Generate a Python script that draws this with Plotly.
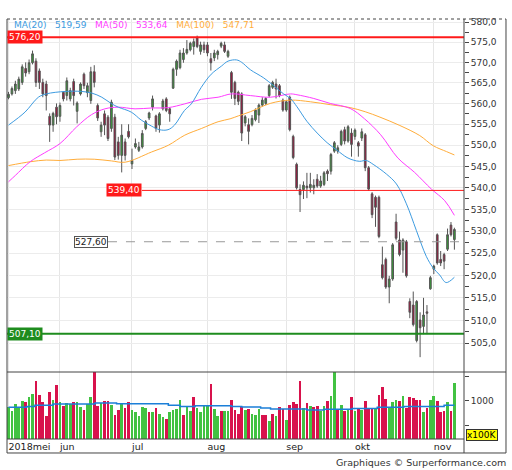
import math
import pandas as pd
import plotly.graph_objects as go

# AEX daily candles, 11 May - 9 Nov 2018
dates = pd.bdate_range("2018-05-11", "2018-11-09")
xi = list(range(len(dates)))

opens = [561.4, 562.3, 563.1, 563.5, 565.1, 568.5, 567.7, 569.9, 570.3, 567.9,
         565.1, 564.7, 556.9, 554.8, 559.1, 556.9, 562.7, 561.9, 561.1, 565.3,
         558.1, 562.3, 567.1, 562.6, 560.7, 567.7, 559.5, 553.2, 557.5, 556.7,
         554.0, 556.7, 550.8, 547.6, 550.8, 553.3, 545.6, 549.6, 548.8, 549.6,
         554.0, 556.5, 559.1, 557.0, 554.8, 558.7, 561.1, 558.7, 563.7, 568.3,
         568.7, 570.7, 572.3, 573.1, 573.9, 576.0, 572.7, 574.3, 574.3, 570.9,
         571.1, 571.9, 574.0, 574.3, 571.5, 567.5, 565.1, 562.7, 562.3, 555.3,
         554.9, 554.9, 556.1, 557.2, 559.6, 560.0, 561.9, 563.9, 564.7, 564.3,
         560.8, 558.4, 561.5, 552.1, 545.5, 539.6, 539.6, 540.4, 540.0, 540.0,
         542.0, 540.4, 540.8, 543.9, 543.9, 548.6, 548.6, 550.2, 553.7, 551.0,
         552.9, 552.1, 550.6, 551.7, 552.5, 544.7, 538.6, 537.8, 537.8, 522.4,
         523.6, 517.4, 519.2, 532.1, 528.0, 525.7, 527.6, 514.2, 513.4, 505.6,
         510.1, 508.7, 511.9, 517.0, 521.4, 529.2, 523.6, 524.7, 525.9, 531.4,
         528.1]
highs = [562.8, 564.1, 565.5, 566.5, 569.5, 570.0, 570.7, 572.9, 571.0, 568.5,
         566.0, 565.5, 557.6, 558.0, 560.0, 560.2, 563.0, 566.3, 563.8, 566.0,
         560.5, 565.1, 567.5, 565.0, 568.9, 569.3, 560.0, 555.6, 558.3, 557.2,
         560.9, 557.5, 552.0, 555.0, 551.6, 555.0, 549.2, 551.6, 550.8, 553.6,
         556.0, 558.0, 561.9, 557.3, 557.9, 561.1, 561.5, 559.1, 568.7, 570.7,
         573.1, 573.5, 575.5, 575.1, 575.9, 576.6, 575.1, 575.1, 575.0, 572.3,
         573.1, 573.1, 575.1, 575.1, 573.1, 567.9, 565.5, 563.1, 562.7, 557.2,
         556.4, 557.2, 558.8, 560.0, 561.5, 561.5, 564.7, 565.5, 566.0, 564.7,
         561.2, 560.8, 561.9, 552.5, 545.9, 540.8, 541.5, 543.5, 543.5, 542.0,
         543.2, 542.8, 543.9, 544.3, 548.2, 551.0, 550.0, 553.7, 554.4, 554.8,
         554.0, 554.0, 551.0, 554.0, 552.9, 545.1, 539.0, 538.2, 538.2, 526.5,
         524.0, 519.9, 527.3, 534.0, 529.9, 528.4, 528.0, 514.9, 516.4, 514.5,
         511.8, 515.0, 513.4, 519.9, 522.4, 529.5, 525.5, 525.1, 530.6, 532.1,
         530.8]
lows = [561.0, 561.9, 562.3, 563.0, 564.5, 566.5, 567.1, 569.5, 564.0, 563.5,
        561.5, 558.3, 550.8, 553.2, 555.0, 555.6, 560.5, 560.7, 560.5, 559.5,
        555.2, 561.9, 563.5, 561.5, 559.9, 563.9, 555.8, 552.0, 552.4, 551.0,
        553.2, 546.5, 546.6, 543.6, 546.4, 551.6, 544.4, 549.2, 548.4, 549.2,
        553.6, 556.0, 558.3, 553.2, 553.0, 558.3, 557.9, 555.6, 563.5, 566.7,
        568.3, 569.9, 571.9, 572.7, 571.9, 573.5, 571.9, 572.3, 571.5, 568.0,
        570.3, 570.7, 573.5, 572.3, 571.1, 561.1, 559.6, 559.6, 551.0, 554.5,
        550.2, 554.5, 555.7, 555.3, 559.2, 559.6, 561.5, 563.5, 561.2, 561.5,
        558.0, 558.0, 553.3, 546.7, 539.6, 534.4, 537.4, 537.6, 538.9, 538.5,
        540.0, 540.0, 540.4, 541.6, 543.1, 548.2, 548.0, 549.8, 550.2, 550.6,
        547.3, 551.3, 547.3, 551.0, 543.9, 539.3, 533.0, 531.0, 528.4, 519.1,
        517.0, 513.8, 518.8, 527.9, 524.3, 520.6, 519.5, 510.5, 508.7, 505.2,
        502.0, 507.0, 507.0, 516.8, 520.3, 522.4, 522.1, 521.4, 525.5, 528.8,
        525.8]
closes = [562.2, 563.6, 564.7, 565.9, 568.9, 567.4, 569.9, 572.1, 565.1, 565.1,
          562.3, 561.9, 554.8, 557.6, 556.8, 559.5, 561.1, 565.5, 563.1, 561.9,
          560.1, 564.7, 564.3, 564.3, 567.7, 565.1, 556.5, 554.8, 554.8, 551.6,
          560.3, 547.2, 547.6, 552.4, 547.6, 552.0, 546.4, 550.4, 549.6, 552.8,
          555.6, 557.7, 561.1, 554.0, 557.5, 560.6, 558.3, 557.5, 568.3, 570.3,
          572.3, 572.3, 573.2, 574.7, 575.1, 573.9, 574.3, 573.1, 572.3, 569.9,
          572.3, 572.7, 574.7, 572.7, 572.7, 562.7, 561.2, 560.5, 552.9, 556.8,
          553.3, 556.4, 558.4, 559.6, 560.8, 561.2, 564.3, 565.1, 563.5, 561.9,
          558.4, 560.4, 553.7, 547.1, 540.0, 538.4, 540.6, 540.0, 540.8, 540.6,
          540.4, 541.6, 543.5, 543.3, 547.8, 550.6, 549.4, 553.3, 551.0, 554.4,
          550.2, 553.6, 549.8, 553.2, 544.7, 539.7, 533.8, 535.5, 528.8, 519.5,
          517.4, 519.2, 526.9, 528.4, 524.7, 528.0, 519.9, 511.8, 509.1, 514.2,
          508.4, 511.2, 511.6, 519.5, 522.1, 522.8, 522.8, 523.2, 529.2, 529.2,
          530.4]

# volume in units of 100K shares, and the colour of each volume bar
volume = [865, 796, 932, 865, 987, 966, 1082, 1143, 1408, 1123,
          966, 681, 1177, 1006, 1313, 966, 884, 952, 939, 973,
          973, 865, 816, 932, 1075, 1590, 898, 946, 987, 987,
          905, 707, 816, 952, 850, 973, 816, 762, 694, 871,
          850, 769, 762, 850, 735, 667, 633, 762, 816, 830,
          1006, 707, 898, 796, 1068, 850, 769, 898, 919, 1341,
          837, 681, 783, 783, 783, 1014, 816, 735, 871, 816,
          830, 735, 707, 837, 707, 707, 593, 735, 681, 871,
          837, 613, 905, 973, 932, 1395, 850, 952, 884, 871,
          884, 796, 884, 987, 1102, 1583, 816, 905, 783, 830,
          1082, 783, 837, 816, 987, 837, 837, 850, 1123, 1272,
          1041, 850, 973, 1006, 987, 1102, 850, 1082, 1048, 1021,
          1021, 769, 850, 1021, 1102, 987, 762, 796, 966, 783,
          1354]
vol_dir = ("GGGGGRGGRRRRRGRGRGGRGGRGGRRGRRGRRGRRGGGGGRGRGGRGGGGRGGRGGGGRGGRGGR"
           "RRRGRGGGRRGRGRRGRRRRGRGRRGGRGGRGRGRGRGRRRGRRRGGGRGRRRRRGRGGRRRGRG")

# moving averages, read at points along each curve
ma20_x = [0, 4.8, 8.7, 11, 16.5, 21.3, 24.3, 27.2, 30.1, 32, 35.8, 38.7, 41.6,
          44, 46.5, 48.4, 51.3, 53.3, 56.2, 59.1, 62.1, 64, 66.5, 68, 70.5,
          74.4, 77.3, 80.2, 82.2, 84.1, 87, 90, 92.9, 95.8, 98.7, 100.5, 102.4,
          104.3, 106.3, 110.2, 113.1, 116, 118.9, 121.8, 123.7, 125.7, 127.6, 130]
ma20_y = [554.8, 557.9, 561.5, 562.3, 562.9, 562.9, 562.5, 561.5, 559.9, 559.1,
          557.9, 556.0, 554.6, 553.7, 553.7, 554.8, 558.3, 559.9, 563.9, 567.1,
          569.1, 570.3, 570.6, 570.0, 568.2, 566.2, 564.3, 562.3, 561.2, 559.2,
          555.7, 552.9, 550.6, 548.8, 547.1, 546.5, 546.2, 546.4, 545.5, 543.2,
          540.9, 536.3, 530.2, 524.3, 521.8, 520.1, 518.4, 519.59]
ma50_x = [0, 2, 6.3, 10.5, 15, 19.9, 24.2, 28.1, 32, 36.9, 41.7, 46.6,
          51.4, 56.3, 61.1, 65, 70.5, 76.3, 82.2, 84.1, 89, 93.8, 99.6, 103.8,
          108.5, 113.5, 118.4, 123.3, 127.2, 130]
ma50_y = [541.4, 542.9, 546.1, 548.2, 550.4, 554.4, 557.3, 558.7, 559.1,
          558.7, 558.9, 559.0, 559.9, 561.0, 561.5, 562.3, 561.9, 561.5, 562.3,
          562.1, 561.2, 560.0, 558.8, 556.3, 552.5, 547.0, 543.6, 539.7, 537.0,
          533.64]
ma100_x = [0, 6.3, 11, 15, 20, 25, 30, 34, 41.7, 46.6, 51.4, 56.3, 61.1,
           64.6, 67, 70.5, 76.3, 82.2, 88, 93.8, 99.6, 104, 108.3, 114.1, 119.9,
           123.8, 127.7, 130]
ma100_y = [545.2, 546.1, 546.5, 546.4, 546.7, 546.7, 546.3, 546.0, 548.4, 550.0,
           552.4, 554.0, 555.6, 556.3, 557.0, 558.0, 560.0, 560.8, 560.4, 559.7,
           559.0, 558.0, 556.7, 554.7, 552.3, 549.9, 548.5, 547.71]

vol_ma_x = [0, 5.3, 7.7, 13, 25.2, 31.5, 46.6, 50, 54.4, 65, 68, 73.5, 76.4,
            87, 92, 100.2, 107.5, 115.2, 127, 130]
vol_ma_y = [865, 884, 905, 932, 952, 939, 905, 884, 898, 884, 871, 850, 830,
            810, 823, 843, 864, 884, 905, 905]

month_labels = ["2018mei", "jun", "jul", "aug", "sep", "okt", "nov"]
price_ticks = [505, 510, 515, 520, 525, 530, 535, 540, 545, 550, 555, 560, 565,
               570, 575, 580]
price_minor = [507.5, 512.5, 517.5, 522.5, 527.5, 532.5, 537.5, 542.5, 547.5,
               552.5, 557.5, 562.5, 567.5, 572.5, 577.5]

levels = [576.20, 539.40, 527.60, 507.10]


def fr(v, d=2):
    return f"{v:.{d}f}".replace(".", ",")


month_pos = [0] + [i for i in range(1, len(dates)) if dates[i].month != dates[i - 1].month]
x_end = 132.8
font = "DejaVu Sans"

fig = go.Figure()

fig.add_trace(go.Candlestick(
    x=xi, open=opens, high=highs, low=lows, close=closes,
    increasing=dict(fillcolor="#35a035", line=dict(color="#555555", width=1)),
    decreasing=dict(fillcolor="#a3103c", line=dict(color="#555555", width=1)),
    whiskerwidth=0, showlegend=False, hoverinfo="skip"))

for mx, my, col in [(ma100_x, ma100_y, "#ffad3b"), (ma50_x, ma50_y, "#ff3cff"),
                    (ma20_x, ma20_y, "#3d9be0")]:
    fig.add_trace(go.Scatter(x=mx, y=my, mode="lines", showlegend=False,
                             line=dict(color=col, width=1, shape="spline"),
                             hoverinfo="skip"))

vol_cols = ["#42c242" if c == "G" else "#d8124c" for c in vol_dir]
fig.add_trace(go.Bar(x=xi, y=volume, marker=dict(color=vol_cols, line_width=0),
                     width=0.78, xaxis="x2", yaxis="y2", showlegend=False,
                     hoverinfo="skip"))
fig.add_trace(go.Scatter(x=vol_ma_x, y=vol_ma_y, mode="lines", xaxis="x2", yaxis="y2",
                         line=dict(color="#1b7fd8", width=1.5, shape="hv"),
                         showlegend=False, hoverinfo="skip"))

# horizontal levels
shapes = []
shapes.append(dict(type="line", xref="paper", yref="y", x0=0, x1=1, y0=levels[0], y1=levels[0],
                   line=dict(color="#ff1a1a", width=2)))
shapes.append(dict(type="line", xref="x", yref="y", x0=38.9, x1=x_end, y0=levels[1], y1=levels[1],
                   line=dict(color="#ff1a1a", width=1)))
shapes.append(dict(type="line", xref="x", yref="y", x0=29.0, x1=x_end, y0=levels[2], y1=levels[2],
                   line=dict(color="#999999", width=1, dash="dash")))
shapes.append(dict(type="line", xref="paper", yref="y", x0=0, x1=1, y0=levels[3], y1=levels[3],
                   line=dict(color="#1e8c1e", width=2)))

# frame
fc = "#444444"
vol_top = 0.1595
frame_right = 1.0919
frame_bot = -0.0333
for x0, y0, x1, y1, dash in [(0, frame_bot, 0, 1, "solid"), (0, 1, frame_right, 1, "dot"),
                             (frame_right, frame_bot, frame_right, 1, "solid"),
                             (0, frame_bot, frame_right, frame_bot, "solid"),
                             (0, vol_top, frame_right, vol_top, "solid"),
                             (0, 0, 1, 0, "solid"), (1, frame_bot, 1, 1, "solid")]:
    shapes.append(dict(type="line", xref="paper", yref="paper", x0=x0, y0=y0, x1=x1, y1=y1,
                       line=dict(color=fc, width=1, dash=dash)))

annotations = [
    dict(xref="paper", yref="paper", x=0.011, y=0.9857, xanchor="left", yanchor="middle",
         showarrow=False, font=dict(family=font, size=9),
         text=(f"<span style='color:#3d9be0'>MA(20)   {fr(ma20_y[-1])}</span>   "
               f"<span style='color:#ff3cff'>MA(50)   {fr(ma50_y[-1])}</span>   "
               f"<span style='color:#ffad3b'>MA(100)   {fr(ma100_y[-1])}</span>")),
    dict(xref="paper", yref="y", x=0, y=math.log10(levels[0]), xanchor="left", yanchor="middle",
         showarrow=False, text=fr(levels[0]), font=dict(family=font, size=9, color="white"),
         bgcolor="#ff1a1a", borderpad=1),
    dict(xref="x", yref="y", x=38.9, y=math.log10(levels[1]), xanchor="right", yanchor="middle",
         showarrow=False, text=fr(levels[1]), font=dict(family=font, size=9, color="white"),
         bgcolor="#ff1a1a", borderpad=1),
    dict(xref="x", yref="y", x=29.0, y=math.log10(levels[2]), xanchor="right", yanchor="middle",
         showarrow=False, text=fr(levels[2]), font=dict(family=font, size=9, color="#222222"),
         bgcolor="white", bordercolor="#555555", borderwidth=1, borderpad=0),
    dict(xref="paper", yref="y", x=0, y=math.log10(levels[3]), xanchor="left", yanchor="middle",
         showarrow=False, text=fr(levels[3]), font=dict(family=font, size=9, color="white"),
         bgcolor="#1e8c1e", borderpad=1),
    dict(xref="paper", yref="paper", x=1.0044, y=0.0107, xanchor="left", yanchor="middle",
         showarrow=False, text="x100K", font=dict(family=font, size=9, color="black"),
         bgcolor="#ffff00", bordercolor="#333333", borderwidth=1, borderpad=0),
    dict(xref="paper", yref="paper", x=1.096, y=-0.0548, xanchor="right", yanchor="middle",
         showarrow=False, text="Graphiques © Surperformance.com",
         font=dict(family=font, size=9.5, color="#333333")),
]

grid = "#e6e6e6"
fig.update_layout(
    width=512, height=470,
    margin=dict(l=7, r=48, t=19, b=31),
    paper_bgcolor="white", plot_bgcolor="white",
    font=dict(family=font, size=9, color="#333333"),
    hovermode=False,
    bargap=0,
    xaxis=dict(domain=[0, 1], anchor="y", range=[-0.44, x_end], tickvals=month_pos,
               showticklabels=False, ticks="", showgrid=True, gridcolor=grid,
               zeroline=False, rangeslider=dict(visible=False), fixedrange=True),
    xaxis2=dict(domain=[0, 1], anchor="y2", matches="x", range=[-0.44, x_end],
                tickvals=month_pos, ticktext=month_labels, ticks="",
                ticklabelposition="outside right", showgrid=True, gridcolor=grid,
                zeroline=False, tickfont=dict(family=font, size=9.5, color="#222222")),
    yaxis=dict(domain=[vol_top, 1], anchor="x", type="log", side="right",
               range=[math.log10(498.8), math.log10(580.75)],
               tickvals=price_ticks, ticktext=[fr(v, 1) for v in price_ticks],
               ticks="outside", ticklen=4, tickcolor="#444444",
               showgrid=True, gridcolor="#ececec", zeroline=False,
               minor=dict(tickvals=price_minor, ticks="outside", ticklen=4,
                          tickcolor="#444444", showgrid=False)),
    yaxis2=dict(domain=[0, vol_top], anchor="x2", side="right", range=[218, 1586],
                tickvals=[500, 1000, 1500], ticktext=["", "1000", ""],
                ticks="outside", ticklen=4, tickcolor="#444444",
                showgrid=False, zeroline=False),
    shapes=shapes,
    annotations=annotations,
)

# the page body has a default 8px margin; drop it so the figure sits at the corner
fig.write_html("out.html", config={"displayModeBar": False},
               post_script="document.body.style.margin='0px';")
